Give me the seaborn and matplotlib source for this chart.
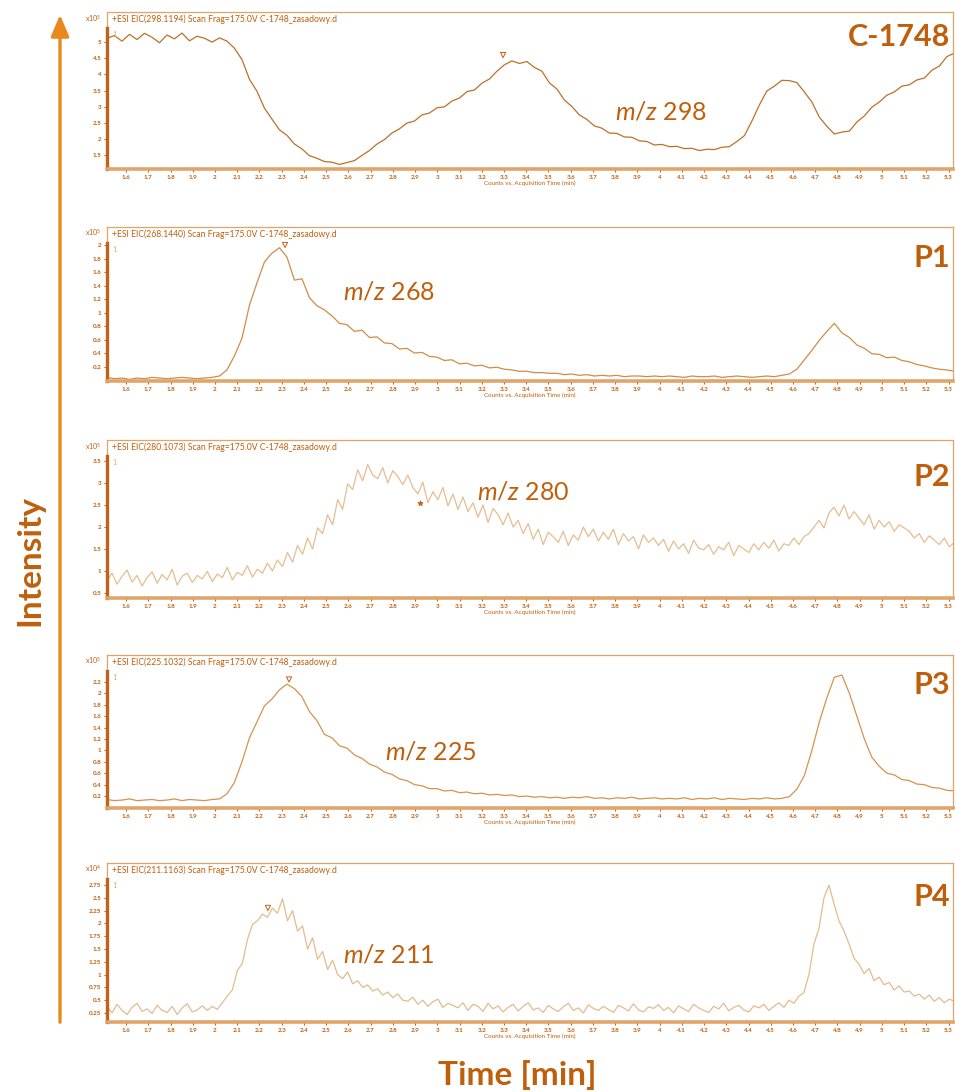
import numpy as np
import matplotlib
matplotlib.use("Agg")
import matplotlib.pyplot as plt
import seaborn as sns
from matplotlib.lines import Line2D
from matplotlib.patches import FancyArrowPatch

# Extracted ion chromatograms, counts in thousands
c1748_counts = [512, 520, 503, 524, 508, 527, 515, 498, 522, 510, 528, 504, 518, 512, 500, 513,
                503, 481, 446, 385, 348, 296, 262, 229, 212, 185, 170, 149, 141, 131, 129, 122, 128, 134,
                150, 165, 185, 199, 219, 232, 250, 256, 275, 281, 297, 300, 318, 327, 347, 352, 373, 386, 410, 430,
                442, 434, 440, 422, 410, 374, 355, 321, 301, 275, 261, 241, 234, 219, 218, 207, 206, 195, 193, 182,
                184, 177, 178, 171, 172, 165, 169, 168, 175, 177, 193, 211, 256, 306, 349, 364, 382, 381, 375, 346,
                315, 268, 240, 216, 222, 225, 253, 272, 299, 315, 336, 346, 364, 368, 383, 389, 413, 426, 455, 466]

p1_counts = [4, 2, 3, 1, 3, 2, 4, 3, 2, 3, 4, 3, 2, 3, 4, 6,
             15, 36, 62, 111, 144, 175, 188, 196, 182, 148, 150, 122, 110, 104, 95, 84,
             82, 72, 74, 63, 64, 55, 54, 46, 47, 40, 41, 35, 34, 29, 30, 24, 25, 21, 22, 18,
             19, 16, 15, 13, 13, 11, 11, 10, 10, 8, 9, 7, 8, 6, 7, 6, 7, 5, 6, 6,
             5, 6, 5, 6, 5, 4, 6, 5, 5, 6, 4, 5, 6, 5, 4, 5, 6, 5, 7, 9,
             16, 30, 44, 59, 72, 84, 70, 63, 52, 47, 39, 38, 33, 34, 29, 27, 23, 21, 18, 16, 15, 13]

p2_counts = [78, 95, 70, 88, 102, 75, 90, 66, 85, 98,
             72, 92, 80, 104, 68, 88, 95, 74, 90, 82,
             99, 76, 93, 85, 108, 80, 97, 90, 112, 86,
             104, 95, 118, 100, 125, 110, 142, 120, 158, 138,
             175, 150, 198, 185, 228, 205, 262, 240, 298, 285,
             330, 305, 342, 318, 310, 335, 300, 328, 315, 296,
             318, 290, 275, 302, 255, 280, 262, 290, 248, 275,
             240, 268, 235, 255, 222, 250, 210, 242, 228, 205,
             232, 200, 215, 185, 208, 172, 195, 160, 188, 178,
             165, 190, 158, 182, 170, 200, 178, 195, 168, 188,
             172, 195, 160, 185, 168, 178, 150, 182, 165, 175,
             158, 172, 145, 168, 150, 162, 140, 170, 152, 148,
             160, 138, 155, 148, 165, 135, 158, 150, 142, 162,
             148, 165, 152, 170, 145, 162, 158, 175, 160, 178,
             185, 200, 215, 198, 232, 245, 225, 250, 218, 235,
             220, 205, 228, 195, 215, 200, 212, 190, 205, 198,
             190, 175, 185, 165, 180, 170, 160, 175, 155, 165]

p3_counts = [14, 12, 13, 15, 12, 13, 14, 12, 13, 15, 12, 14, 13, 12, 14, 15,
             24, 44, 80, 122, 150, 178, 190, 206, 216, 208, 194, 168, 152, 128, 122, 108, 104, 92, 86, 76,
             71, 62, 58, 50, 47, 40, 38, 33, 33, 29, 30, 26, 27, 24, 25, 22, 23, 21, 22, 19,
             20, 18, 19, 17, 18, 16, 18, 17, 19, 16, 17, 15, 17, 16, 18, 15, 16, 17, 15, 16,
             15, 17, 14, 16, 15, 17, 14, 16, 15, 14, 16, 15, 17, 15, 16, 19,
             32, 56, 100, 150, 192, 228, 232, 200, 160, 120, 88, 72, 60, 57, 49, 47, 41, 40, 35, 34, 30, 29]

p4_counts = [38, 25, 42, 30, 22, 36, 44, 28, 33, 24,
             40, 30, 26, 38, 22, 35, 43, 27, 31, 39,
             30, 38, 32, 45, 58, 70, 108, 122, 168, 198,
             205, 218, 212, 230, 220, 248, 205, 225, 185, 195,
             150, 172, 130, 145, 110, 128, 100, 92, 105, 82,
             88, 75, 80, 68, 72, 60, 66, 55, 62, 50,
             48, 56, 42, 50, 38, 47, 52, 36, 44, 40,
             35, 45, 30, 42, 38, 28, 44, 33, 39, 27,
             36, 42, 29, 38, 45, 31, 35, 26, 40, 33,
             28, 37, 44, 30, 35, 25, 41, 34, 30, 38,
             32, 26, 40, 35, 29, 43, 31, 27, 37, 34,
             41, 30, 36, 25, 39, 33, 28, 42, 35, 30,
             26, 38, 33, 44, 29, 36, 40, 31, 27, 39,
             35, 42, 30, 38, 45, 36, 50, 44, 58, 65,
             100, 160, 190, 250, 275, 238, 205, 185, 160, 132,
             120, 102, 112, 88, 95, 80, 85, 70, 78, 66,
             68, 58, 62, 52, 60, 48, 55, 45, 52, 48]

compound_names = ["C-1748", "P1", "P2", "P3", "P4"]
mz_labels = ["298", "268", "280", "225", "211"]
eic_masses = ["298.1194", "268.1440", "280.1073", "225.1032", "211.1163"]
exponents = ["5", "5", "5", "5", "4"]
peak_times = [3.296, 2.315, 2.922, 2.333, 2.238]
peak_counts = [447, 194, 255, 217, 222]
peak_symbols = ["v", "v", "*", "v", "v"]
x_ticks = np.round(np.arange(1.6, 5.31, 0.1), 1)
scan_start, scan_end = 1.514, 5.326

series = [c1748_counts, p1_counts, p2_counts, p3_counts, p4_counts]

# panel layout (pixel rows of the frame) and axis ranges
layout = [
    dict(box=(12, 169), spine_top=28, ylim=(108, 593), yticks=np.arange(150, 501, 50),
         color="#bd7127", name_y=37, mz_xy=(615, 112)),
    dict(box=(227, 381), spine_top=243, ylim=(-1.4, 226.7), yticks=np.arange(20, 201, 20),
         color="#cf8d48", name_y=258, mz_xy=(343, 292)),
    dict(box=(440, 598), spine_top=456, ylim=(38.6, 397.7), yticks=np.arange(50, 351, 50),
         color="#e6bd92", name_y=477, mz_xy=(477, 492)),
    dict(box=(655, 808), spine_top=671, ylim=(-0.9, 267), yticks=np.arange(20, 221, 20),
         color="#d3944f", name_y=685, mz_xy=(385, 752)),
    dict(box=(863, 1022), spine_top=879, ylim=(7.4, 318), yticks=np.arange(25, 276, 25),
         color="#e4bb8f", name_y=897, mz_xy=(343, 955)),
]

sns.set_theme(style="white")
plt.rcParams["font.family"] = ["Lato", "DejaVu Sans"]
plt.rcParams["mathtext.fontset"] = "custom"
plt.rcParams["mathtext.it"] = "Lato:italic"
plt.rcParams["mathtext.rm"] = "Lato"

W, H = 955, 1092
fig = plt.figure(figsize=(W / 100, H / 100), dpi=100)

dark = "#c0621a"
frame = "#dfa56a"
label_col = "#bf5f0c"
left_px, right_px = 107, 953


def fx(px):
    return px / W


def fy(py):
    return 1 - py / H


for i, (vals, lay) in enumerate(zip(series, layout)):
    top, bottom = lay["box"]
    ax = fig.add_axes([fx(left_px), fy(bottom), (right_px - left_px) / W, (bottom - top) / H])
    t = np.linspace(scan_start, scan_end, len(vals))
    sns.lineplot(x=t, y=vals, ax=ax, color=lay["color"], linewidth=0.9, estimator=None)
    ax.scatter([peak_times[i]], [peak_counts[i] + (8 if i != 2 else 0) * (lay["ylim"][1] - lay["ylim"][0]) / 300],
               marker=peak_symbols[i], s=14, facecolors="none" if peak_symbols[i] == "v" else dark,
               edgecolors=dark, linewidths=0.7, zorder=4)
    ax.set_xlim(1.514, 5.32)
    ax.set_ylim(*lay["ylim"])
    ax.set_xticks(x_ticks)
    ax.set_xticklabels([f"{v:g}" for v in x_ticks])
    ax.set_yticks(lay["yticks"])
    ax.set_yticklabels([f"{v / 100:g}" for v in lay["yticks"]])
    ax.tick_params(axis="both", which="major", labelsize=4.5, colors=dark, length=2.5, width=0.8, pad=1.5,
                   bottom=True, left=True)
    for lab in ax.get_xticklabels() + ax.get_yticklabels():
        lab.set_color(label_col)
        lab.set_fontweight("bold")
    ax.set_xlabel("Counts vs. Acquisition Time (min)", fontsize=4.5, color=label_col, labelpad=1)
    ax.set_ylabel("")

    for side in ["top", "right"]:
        ax.spines[side].set_color(frame)
        ax.spines[side].set_linewidth(0.9)
    ax.spines["bottom"].set_color(frame)
    ax.spines["bottom"].set_linewidth(2.6)
    ylo, yhi = lay["ylim"]
    spine_val = yhi - (lay["spine_top"] - top) / (bottom - top) * (yhi - ylo)
    ax.spines["left"].set_bounds(ylo, spine_val)
    ax.spines["left"].set_color(dark)
    ax.spines["left"].set_linewidth(2.4)
    frac = 1 - (lay["spine_top"] - top) / (bottom - top)
    ax.add_line(Line2D([0, 0], [frac, 1], transform=ax.transAxes, color=frame, lw=0.9, clip_on=False))
    ax.text(0.006, frac - 0.02, "1", transform=ax.transAxes, fontsize=5, color=frame, va="top")

    header = f"+ESI EIC({eic_masses[i]}) Scan Frag=175.0V C-1748_zasadowy.d"
    fig.text(fx(112), fy(top + 7), header, fontsize=6.2, color=label_col, va="center", ha="left")
    fig.text(fx(101), fy(top + 6), rf"x10$^{{{exponents[i]}}}$", fontsize=5, color=label_col,
             va="center", ha="right")

    fig.text(fx(950), fy(lay["name_y"]), compound_names[i], fontsize=22, fontweight="bold",
             color=label_col, ha="right", va="center")
    mx, my = lay["mz_xy"]
    fig.text(fx(mx), fy(my), rf"$m/z$ {mz_labels[i]}", fontsize=18, color=label_col,
             ha="left", va="center")

fig.text(fx(30), fy(560), "Intensity", rotation=90, fontsize=24, fontweight="bold",
         color=label_col, ha="center", va="center")
fig.text(fx(517), fy(1075), "Time [min]", fontsize=24, fontweight="bold",
         color=label_col, ha="center", va="center")

arrow = FancyArrowPatch((fx(60), fy(1025)), (fx(60), fy(12)), transform=fig.transFigure,
                        arrowstyle="-|>,head_length=1.3,head_width=0.55", mutation_scale=10,
                        color="#e8891e", lw=2.4)
fig.add_artist(arrow)

fig.savefig("out.png", dpi=100, facecolor="white")
